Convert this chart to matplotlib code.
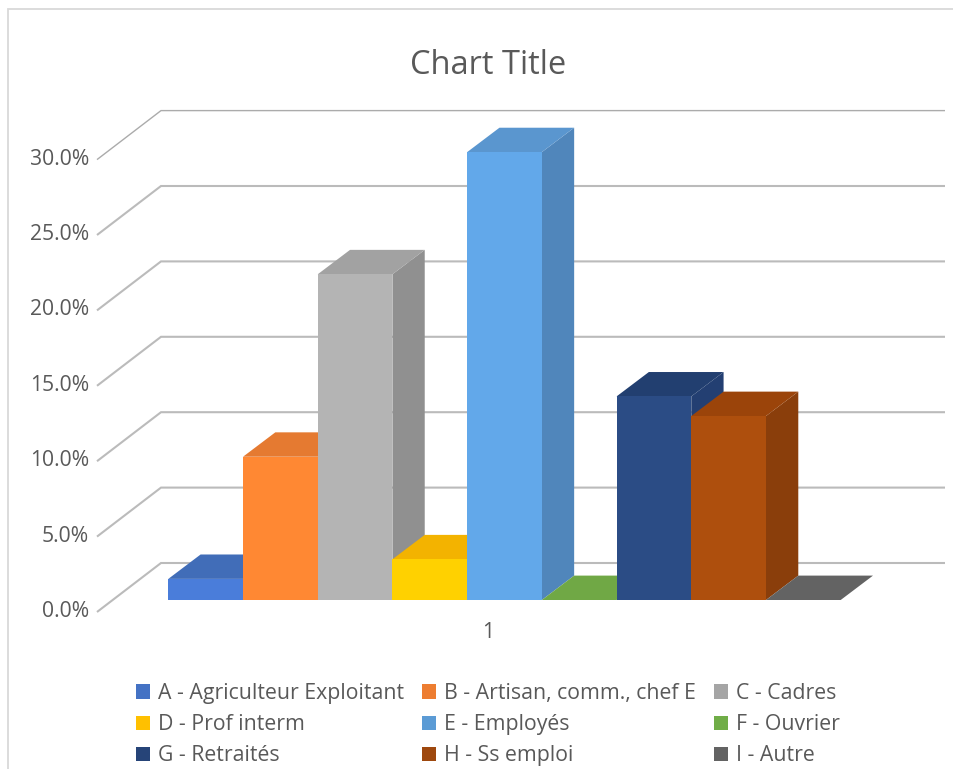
import matplotlib
matplotlib.use("Agg")
import matplotlib.pyplot as plt
from matplotlib.patches import Patch
from matplotlib.lines import Line2D
from matplotlib.transforms import ScaledTranslation

W, H = 954, 769
DPI = 100

# ---- data ----
categories = ["1"]
series = ["A - Agriculteur Exploitant", "B - Artisan, comm., chef E", "C - Cadres",
          "D - Prof interm", "E - Employés", "F - Ouvrier",
          "G - Retraités", "H - Ss emploi", "I - Autre"]
values = [1.4, 9.5, 21.6, 2.7, 29.7, 0.0, 13.5, 12.2, 0.0]
yticks = [0, 5, 10, 15, 20, 25, 30]

# ---- styles ----
legend_colors = ["#4472C4", "#ED7D31", "#A5A5A5", "#FFC000", "#5B9BD5", "#70AD47", "#264478", "#9E480E", "#636363"]
front_colors = ["#4A7DDA", "#FF8833", "#B4B4B4", "#FFD100", "#62A8EA", "#7ABD4E", "#2B4C85", "#AE4F0D", "#6E6E6E"]
top_colors = ["#416DB8", "#E57A31", "#A2A2A2", "#F3B300", "#5A96CF", "#70A845", "#223F70", "#9B440A", "#636363"]
side_colors = ["#3A63A8", "#CF6E28", "#909090", "#D9A000", "#5086BB", "#639A3D", "#233F72", "#8A3E0B", "#585858"]
TEXT = "#595959"
GRID = "#BBBBBB"
FONT = "Open Sans"
FS = 15.2
LEG_FS = 15.35

plt.rcParams["font.family"] = FONT
fig = plt.figure(figsize=(W / DPI, H / DPI), dpi=DPI, facecolor="white")

# the axes is the front plane of the bars
x0, x1, y0, y1 = 168.3, 840.7, 600.0, 147.6
ax = fig.add_axes([x0 / W, 1 - y0 / H, (x1 - x0) / W, (y0 - y1) / H])
n = len(values)
ax.set_xlim(0, n)
ax.set_ylim(0, 30)
px = n / (x1 - x0)
py = 30 / (y0 - y1)
ax.patch.set_visible(False)
for s in ax.spines.values():
    s.set_visible(False)

# walls: front edge and back edge of the floor relative to the bar plane
fx, fy = -71.3 * px, -12.0 * py
bx, by = -7.3 * px, 37.0 * py
right = (945 - x0) * px
for v in yticks:
    top_line = v == yticks[-1]
    ax.plot([fx, bx, right], [v + fy, v + by, v + by],
            color="#ABABAB" if top_line else GRID, lw=1.0 if top_line else 1.5,
            clip_on=False, zorder=1, solid_capstyle="butt", solid_joinstyle="miter")

# bars: side and top are the front face shifted by the bar depth
dx, dy = 32.3 * px, 24.4 * py
positions = [i + 0.5 for i in range(n)]
for i, (p, v) in enumerate(zip(positions, values)):
    l, r = p - 0.5, p + 0.5
    z = 2 + i
    ax.fill([r, r + dx, r + dx, r], [0, dy, v + dy, v], color=side_colors[i], lw=0, zorder=z, clip_on=False)
    ax.fill([l, r, r + dx, l + dx], [v, v, v + dy, v + dy], color=top_colors[i], lw=0, zorder=z, clip_on=False)
    ax.bar(p, v, width=1, color=front_colors[i], lw=0, zorder=z + 0.5, clip_on=False)

# axis labels
ax.set_yticks(yticks, [f"{v:.1f}%" for v in yticks])
ax.set_xticks([n / 2], categories)
ax.tick_params(axis="both", length=0, labelsize=FS, labelcolor=TEXT)
ax.tick_params(axis="y", pad=(x0 - 89) * 72 / DPI)
ax.tick_params(axis="x", pad=(622 - y0) * 72 / DPI)
shift_y = ScaledTranslation(0, -9 / DPI, fig.dpi_scale_trans)
shift_x = ScaledTranslation(-16 / DPI, 0, fig.dpi_scale_trans)
for lab in ax.get_yticklabels():
    lab.set_transform(lab.get_transform() + shift_y)
for lab in ax.get_xticklabels():
    lab.set_transform(lab.get_transform() + shift_x)

# title
fig.text(488 / W, 1 - 65 / H, "Chart Title", ha="center", va="center", fontsize=23.5, color=TEXT)

# legend, filled row by row
order = [0, 3, 6, 1, 4, 7, 2, 5, 8]
handles = [Patch(facecolor=legend_colors[i], edgecolor="none", label=series[i]) for i in order]
leg = fig.legend(handles=handles, ncols=3, loc="upper left", bbox_to_anchor=(136 / W, 1 - 683 / H),
                 frameon=False, fontsize=LEG_FS, labelcolor=TEXT, borderaxespad=0, borderpad=0,
                 handlelength=14 * 0.72 / LEG_FS, handleheight=14 * 0.72 / LEG_FS,
                 handletextpad=8 * 0.72 / LEG_FS, columnspacing=18 * 0.72 / LEG_FS, labelspacing=0.48)

# chart frame: only left and top edges fall inside the picture
fig.add_artist(Line2D([8 / W, 8 / W, 1], [0, 1 - 9 / H, 1 - 9 / H], transform=fig.transFigure,
                      color="#D9D9D9", lw=1.3, solid_joinstyle="miter"))

fig.savefig("out.png", dpi=DPI, facecolor="white")
